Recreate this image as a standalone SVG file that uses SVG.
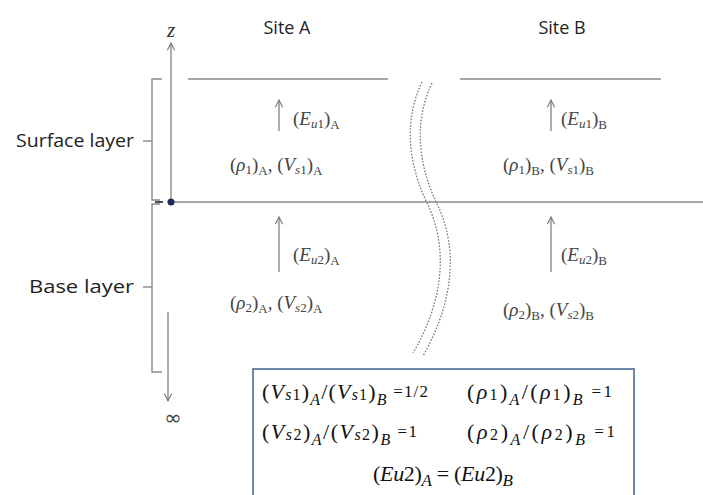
<svg xmlns="http://www.w3.org/2000/svg" width="703" height="495" viewBox="0 0 703 495">
<style>
.ln{stroke:#8a8a8a;stroke-width:1.4;fill:none}
.wv{stroke:#7a7a7a;stroke-width:1.3;fill:none;stroke-dasharray:1.6 1.6}
.sans{font-family:"Open Sans","Liberation Sans",sans-serif;font-size:18px;fill:#222}
.m{font-family:"Liberation Serif","DejaVu Serif",serif;font-size:19px;fill:#444}
.s{font-size:13px}
.bx{font-family:"Liberation Serif","DejaVu Serif",serif;font-size:22px;fill:#111}
.bs{font-size:16px}
.i{font-style:italic}
</style>
<defs>
<marker id="ah" viewBox="0 0 10 10" refX="9" refY="5" markerWidth="9" markerHeight="9" markerUnits="userSpaceOnUse" orient="auto">
<path d="M1,1 L9,5 L1,9" fill="none" stroke="#777" stroke-width="1.2"/>
</marker>
</defs>
<rect width="703" height="495" fill="#fff"/>
<g id="connectors">
<line class="ln" x1="171" y1="202" x2="171" y2="43" marker-end="url(#ah)"/>
<line class="ln" x1="168" y1="312" x2="168" y2="401" marker-end="url(#ah)"/>
<line class="ln" x1="279" y1="131" x2="279" y2="100" marker-end="url(#ah)"/>
<line class="ln" x1="551" y1="131" x2="551" y2="100" marker-end="url(#ah)"/>
<line class="ln" x1="279" y1="272" x2="279" y2="217" marker-end="url(#ah)"/>
<line class="ln" x1="551" y1="272" x2="551" y2="217" marker-end="url(#ah)"/>
</g>
<g id="layers">
<line class="ln" x1="188" y1="79" x2="388" y2="79"/>
<line class="ln" x1="460" y1="79" x2="661" y2="79"/>
<line class="ln" x1="171" y1="202" x2="703" y2="202"/>
<path class="wv" d="M422,82 C405,118 406,160 428,205 C448,248 444,300 413,353"/>
<path class="wv" d="M432,83 C415,119 416,161 438,206 C458,249 454,301 423,356"/>
</g>
<g id="brackets">
<path class="ln" d="M162,79 L152,79 L152,200 L160,200"/>
<line class="ln" x1="143" y1="141" x2="152" y2="141"/>
<path class="ln" d="M160,204 L152,204 L152,372 L162,372"/>
<line class="ln" x1="143" y1="287" x2="152" y2="287"/>
<line x1="155" y1="202" x2="163" y2="202" stroke="#222" stroke-width="1.6"/>
<circle cx="171" cy="202" r="3.5" fill="#1a2a55"/>
</g>
<g id="axis-labels">
<text x="171" y="37" text-anchor="middle" font-family="Liberation Serif,serif" font-style="italic" font-size="21" fill="#333">z</text>
<text x="173" y="425" text-anchor="middle" font-family="DejaVu Sans,sans-serif" font-size="21" fill="#444">∞</text>
</g>
<g id="site-a-title"><text class="sans" x="287" y="34" text-anchor="middle">Site A</text></g>
<g id="site-b-title"><text class="sans" x="562" y="34" text-anchor="middle">Site B</text></g>
<g id="surface-label"><text class="sans" x="134" y="147" text-anchor="end" textLength="118" lengthAdjust="spacingAndGlyphs">Surface layer</text></g>
<g id="base-label"><text class="sans" x="134" y="293" text-anchor="end" textLength="105" lengthAdjust="spacingAndGlyphs">Base layer</text></g>
<g id="site-a-surface">
<text class="m" x="293" y="125">(<tspan class="i">E</tspan><tspan class="i s" dy="3">u</tspan><tspan class="s">1</tspan><tspan dy="-3">)</tspan><tspan class="s" dy="4">A</tspan></text>
<text class="m" x="230" y="171">(<tspan class="i">ρ</tspan><tspan class="s" dy="3">1</tspan><tspan dy="-3">)</tspan><tspan class="s" dy="4">A</tspan><tspan dy="-4">,  (</tspan><tspan class="i">V</tspan><tspan class="i s" dy="3">s</tspan><tspan class="s">1</tspan><tspan dy="-3">)</tspan><tspan class="s" dy="4">A</tspan></text>
</g>
<g id="site-b-surface">
<text class="m" x="561" y="125">(<tspan class="i">E</tspan><tspan class="i s" dy="3">u</tspan><tspan class="s">1</tspan><tspan dy="-3">)</tspan><tspan class="s" dy="4">B</tspan></text>
<text class="m" x="503" y="171">(<tspan class="i">ρ</tspan><tspan class="s" dy="3">1</tspan><tspan dy="-3">)</tspan><tspan class="s" dy="4">B</tspan><tspan dy="-4">, (</tspan><tspan class="i">V</tspan><tspan class="i s" dy="3">s</tspan><tspan class="s">1</tspan><tspan dy="-3">)</tspan><tspan class="s" dy="4">B</tspan></text>
</g>
<g id="site-a-base">
<text class="m" x="293" y="261">(<tspan class="i">E</tspan><tspan class="i s" dy="3">u</tspan><tspan class="s">2</tspan><tspan dy="-3">)</tspan><tspan class="s" dy="4">A</tspan></text>
<text class="m" x="230" y="309">(<tspan class="i">ρ</tspan><tspan class="s" dy="3">2</tspan><tspan dy="-3">)</tspan><tspan class="s" dy="4">A</tspan><tspan dy="-4">, (</tspan><tspan class="i">V</tspan><tspan class="i s" dy="3">s</tspan><tspan class="s">2</tspan><tspan dy="-3">)</tspan><tspan class="s" dy="4">A</tspan></text>
</g>
<g id="site-b-base">
<text class="m" x="561" y="261">(<tspan class="i">E</tspan><tspan class="i s" dy="3">u</tspan><tspan class="s">2</tspan><tspan dy="-3">)</tspan><tspan class="s" dy="4">B</tspan></text>
<text class="m" x="503" y="316">(<tspan class="i">ρ</tspan><tspan class="s" dy="3">2</tspan><tspan dy="-3">)</tspan><tspan class="s" dy="4">B</tspan><tspan dy="-4">, (</tspan><tspan class="i">V</tspan><tspan class="i s" dy="3">s</tspan><tspan class="s">2</tspan><tspan dy="-3">)</tspan><tspan class="s" dy="4">B</tspan></text>
</g>
<g id="ratio-box">
<rect x="253" y="369" width="381" height="140" fill="#fff" stroke="#4a6a94" stroke-width="1.6"/>
<text class="bx" x="262" y="399" textLength="166" lengthAdjust="spacing">(<tspan class="i">V</tspan><tspan class="i bs" dy="1">s</tspan><tspan class="bs">1</tspan><tspan dy="-1">)</tspan><tspan class="i bs" dy="6">A</tspan><tspan dy="-6">/(</tspan><tspan class="i">V</tspan><tspan class="i bs" dy="1">s</tspan><tspan class="bs">1</tspan><tspan dy="-1">)</tspan><tspan class="i bs" dy="6">B</tspan><tspan font-size="17" dy="-8"> =1/2</tspan></text>
<text class="bx" x="467" y="399" textLength="145" lengthAdjust="spacing">(<tspan class="i">ρ</tspan><tspan class="bs" dy="1">1</tspan><tspan dy="-1">)</tspan><tspan class="i bs" dy="6">A</tspan><tspan dy="-6">/(</tspan><tspan class="i">ρ</tspan><tspan class="bs" dy="1">1</tspan><tspan dy="-1">)</tspan><tspan class="i bs" dy="6">B</tspan><tspan font-size="17" dy="-8"> =1</tspan></text>
<text class="bx" x="262" y="439" textLength="155" lengthAdjust="spacing">(<tspan class="i">V</tspan><tspan class="i bs" dy="1">s</tspan><tspan class="bs">2</tspan><tspan dy="-1">)</tspan><tspan class="i bs" dy="6">A</tspan><tspan dy="-6">/(</tspan><tspan class="i">V</tspan><tspan class="i bs" dy="1">s</tspan><tspan class="bs">2</tspan><tspan dy="-1">)</tspan><tspan class="i bs" dy="6">B</tspan><tspan font-size="17" dy="-8"> =1</tspan></text>
<text class="bx" x="467" y="439" textLength="148" lengthAdjust="spacing">(<tspan class="i">ρ</tspan><tspan class="bs" dy="1">2</tspan><tspan dy="-1">)</tspan><tspan class="i bs" dy="6">A</tspan><tspan dy="-6">/(</tspan><tspan class="i">ρ</tspan><tspan class="bs" dy="1">2</tspan><tspan dy="-1">)</tspan><tspan class="i bs" dy="6">B</tspan><tspan font-size="17" dy="-8"> =1</tspan></text>
<text class="bx" x="373" y="481" font-size="23" textLength="140" lengthAdjust="spacing">(<tspan class="i">E</tspan><tspan class="i">u</tspan>2)<tspan class="i" font-size="17" dy="5">A</tspan><tspan dy="-5"> = (</tspan><tspan class="i">E</tspan><tspan class="i">u</tspan>2)<tspan class="i" font-size="17" dy="5">B</tspan></text>
</g>
</svg>
